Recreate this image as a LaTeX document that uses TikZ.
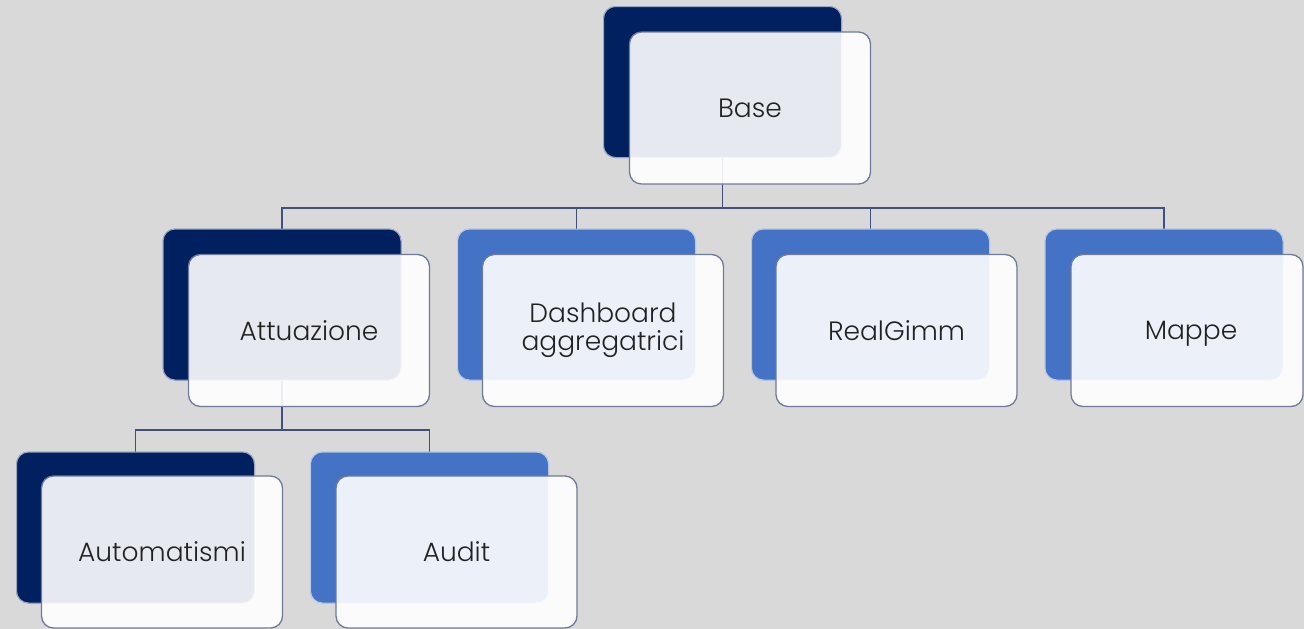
\documentclass[tikz,border=0pt]{standalone}
\usepackage{fontspec}
\setmainfont{Poppins}[UprightFont={* Light}]
\definecolor{bg}{HTML}{D9D9D9}
\definecolor{navy}{HTML}{002060}
\definecolor{lblue}{HTML}{4472C4}
\definecolor{fborder}{HTML}{6E7B9A}
\definecolor{conncol}{HTML}{3F4F80}
\definecolor{txt}{HTML}{222222}
\tikzset{
  backbox/.style={rounded corners=12pt, minimum width=238pt, minimum height=151pt, inner sep=0pt, line width=1pt},
  darkback/.style={backbox, fill=navy, draw=navy!40!white},
  lightback/.style={backbox, fill=lblue, draw=lblue!40!white},
  frontbox/.style={rounded corners=12pt, minimum width=241pt, minimum height=152pt, inner sep=0pt,
    fill=white, fill opacity=0.9, text opacity=1, draw=fborder, line width=1.3pt,
    text=txt, font=\fontsize{26.5}{28}\selectfont, align=center},
  conn/.style={draw=conncol, line width=1.5pt}
}
\begin{document}
\begin{tikzpicture}[x=1pt,y=-1pt]
\fill[bg] (0,0) rectangle (1304,629);
\useasboundingbox (0,0) rectangle (1304,629);
% back boxes (named so connectors can attach)
\node[darkback]  (bBase) at (722.5,82) {};
\node[darkback]  (bAtt)  at (282,304.5) {};
\node[lightback] (bDash) at (576.5,304.5) {};
\node[lightback] (bReal) at (870.5,304.5) {};
\node[lightback] (bMap)  at (1164,304.5) {};
\node[darkback]  (bAuto) at (135.5,527.5) {};
\node[lightback] (bAud)  at (429.5,527.5) {};
% connectors
\coordinate (j1) at (0,208);
\coordinate (j2) at (0,430);
\foreach \c in {bAtt,bDash,bReal,bMap}{
  \draw[conn] (bBase.south) -- (bBase.south |- j1) -| (\c.north);
}
\foreach \c in {bAuto,bAud}{
  \draw[conn] (bAtt.south) -- (bAtt.south |- j2) -| (\c.north);
}
% redraw back boxes over connectors
\node[darkback]  at (bBase) {};
\node[darkback]  at (bAtt) {};
\node[lightback] at (bDash) {};
\node[lightback] at (bReal) {};
\node[lightback] at (bMap) {};
\node[darkback]  at (bAuto) {};
\node[lightback] at (bAud) {};
% front boxes
\node[frontbox] (fBase) at (750,108) {Base};
\node[frontbox] (fAtt)  at (309,330.5) {Attuazione};
\node[frontbox] (fDash) at (603,330.5) {Dashboard\\aggregatrici};
\node[frontbox] (fReal) at (896.5,330.5) {RealGimm};
\node[frontbox, minimum width=232pt, text depth=0pt] (fMap) at (1187,330.5) {\hspace*{8pt}Mappe};
\node[frontbox] (fAuto) at (162,552) {Automatismi};
\node[frontbox] (fAud)  at (456.5,552) {Audit};
\end{tikzpicture}
\end{document}
